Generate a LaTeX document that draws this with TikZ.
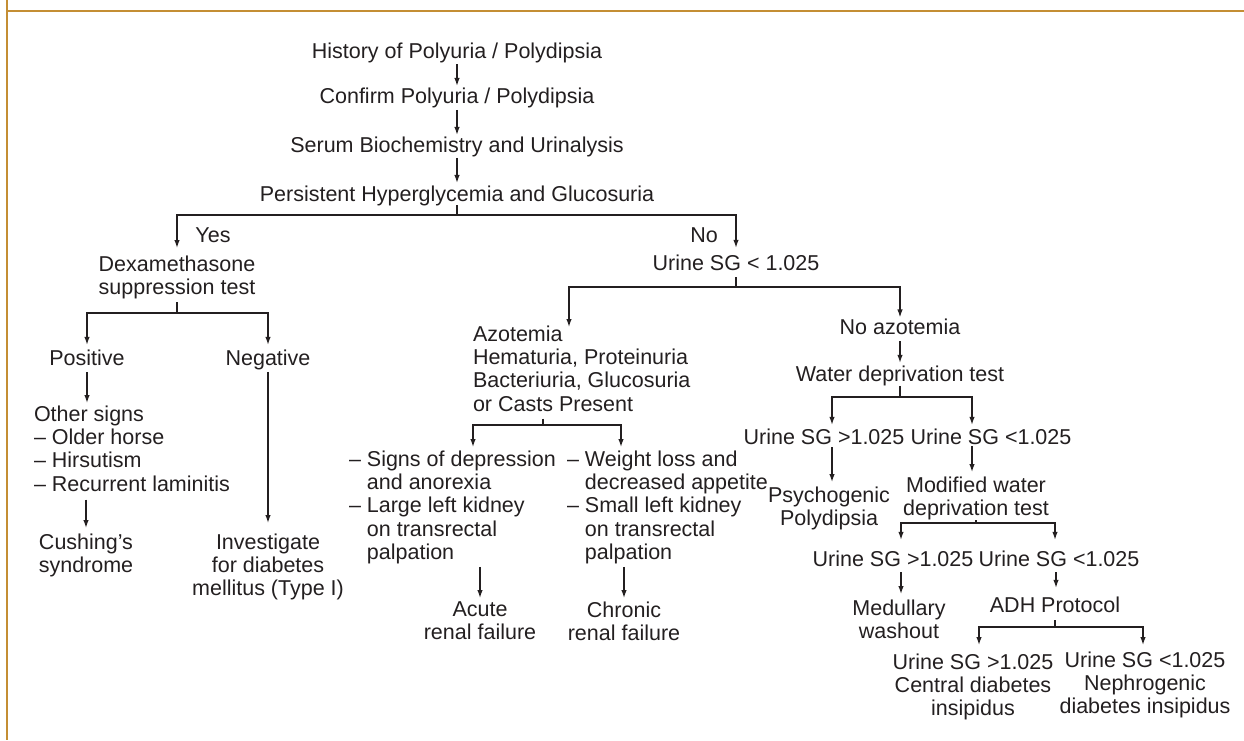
\documentclass[tikz,border=0pt]{standalone}
\usepackage{fontspec}
\setmainfont{Liberation Sans}
\usetikzlibrary{arrows.meta}
\definecolor{framegold}{RGB}{196,142,52}
\definecolor{ink}{RGB}{35,31,32}
\begin{document}
\begin{tikzpicture}[x=1pt,y=-1pt,
  txt/.style={font=\fontsize{21.5}{23.4}\selectfont, text=ink, inner sep=0pt, outer sep=0pt},
  ctr/.style={txt, align=center},
  lft/.style={txt, align=left},
  ln/.style={draw=ink, line width=1.3pt},
  arr/.style={ln, -{Latex[length=8pt,width=5.5pt]}}]
\useasboundingbox (0,0) rectangle (1244,740);
\draw[framegold, line width=1.6pt] (7,0) -- (7,740);
\draw[framegold, line width=1.6pt] (7,11) -- (1244,11);

% main column
\node[txt, anchor=base] (hist) at (457,58) {History of Polyuria / Polydipsia};
\node[txt, anchor=base] (conf) at (457,103) {Confirm Polyuria / Polydipsia};
\node[txt, anchor=base] (serum) at (457,152) {Serum Biochemistry and Urinalysis};
\node[txt, anchor=base] (pers) at (457,201) {Persistent Hyperglycemia and Glucosuria};
\node[txt, anchor=base] (yes) at (213,242) {Yes};
\node[txt, anchor=base] (no) at (704,242) {No};
\node[ctr, anchor=north] (dex) at (177,255.6) {Dexamethasone\\suppression test};
\node[txt, anchor=base] (urine1) at (736,270) {Urine SG {<} 1.025};

% left branch
\node[txt, anchor=base] (pos) at (87,365) {Positive};
\node[txt, anchor=base] (neg) at (268,365) {Negative};
\node[lft, anchor=north west] (other) at (34,405.6) {Other signs\\\textendash\ Older horse\\\textendash\ Hirsutism\\\textendash\ Recurrent laminitis};
\node[ctr, anchor=north] (cush) at (86,533.6) {Cushing’s\\syndrome};
\node[ctr, anchor=north] (invest) at (268,533.6) {Investigate\\for diabetes\\mellitus (Type I)};

% middle branch
\node[lft, anchor=north west] (azot) at (473,325.6) {Azotemia\\Hematuria, Proteinuria\\Bacteriuria, Glucosuria\\or Casts Present};
\node[lft, anchor=north west] (signs) at (349,450.6) {\textendash\ Signs of depression\\\hphantom{\textendash\ }and anorexia\\\textendash\ Large left kidney\\\hphantom{\textendash\ }on transrectal\\\hphantom{\textendash\ }palpation};
\node[lft, anchor=north west] (weight) at (567,450.6) {\textendash\ Weight loss and\\\hphantom{\textendash\ }decreased appetite\\\textendash\ Small left kidney\\\hphantom{\textendash\ }on transrectal\\\hphantom{\textendash\ }palpation};
\node[ctr, anchor=north] (acute) at (480,601.6) {Acute\\renal failure};
\node[ctr, anchor=north] (chronic) at (624,601.6) {Chronic\\renal failure};

% right branch
\node[txt, anchor=base] (noaz) at (900,334) {No azotemia};
\node[txt, anchor=base] (water) at (900,381) {Water deprivation test};
\node[txt, anchor=base] (us1) at (824,444) {Urine SG {>}1.025};
\node[txt, anchor=base] (us2) at (991,444) {Urine SG {<}1.025};
\node[ctr, anchor=north] (psych) at (829,486.6) {Psychogenic\\Polydipsia};
\node[ctr, anchor=north] (modw) at (976,476.6) {Modified water\\deprivation test};
\node[txt, anchor=base] (us3) at (893,566) {Urine SG {>}1.025};
\node[txt, anchor=base] (us4) at (1059,566) {Urine SG {<}1.025};
\node[ctr, anchor=north] (med) at (899,599.6) {Medullary\\washout};
\node[txt, anchor=base] (adh) at (1055,612) {ADH Protocol};
\node[ctr, anchor=north] (cdi) at (973,653.6) {Urine SG {>}1.025\\Central diabetes\\insipidus};
\node[ctr, anchor=north] (ndi) at (1145,651.6) {Urine SG {<}1.025\\Nephrogenic\\diabetes insipidus};

% junction coordinates
\coordinate (b1) at (457,215);
\coordinate (b2) at (177,313);
\coordinate (b3) at (736,287);
\coordinate (azin) at (569,327);
\coordinate (b4) at (900,397);
\coordinate (b5) at (976,523);
\coordinate (b6) at (1055,627);
\coordinate (b7) at (543,425);
\coordinate (sgin) at (473,447);
\coordinate (wtin) at (621,447);

% main chain
\draw[arr, shorten <=2pt, shorten >=1.5pt] (hist.south) -- (conf.north);
\draw[arr, shorten <=2.5pt, shorten >=1.5pt] (conf.south) -- (serum.north);
\draw[arr, shorten <=1.5pt, shorten >=2.5pt] (serum.south) -- (pers.north);
\draw[ln] (pers.south) -- (b1);
\draw[arr, shorten >=7.6pt] (b1) -| (dex.north);
\draw[arr, shorten >=6.6pt] (b1) -| (urine1.north);

% dexamethasone branch
\draw[ln, shorten <=3pt] (dex.south) -- (b2);
\draw[arr, shorten >=4.6pt] (b2) -| (pos.north);
\draw[arr, shorten >=4.6pt] (b2) -| (neg.north);
\draw[arr, shorten <=7pt, shorten >=2.6pt] (pos.south) -- (pos.south |- other.north);
\draw[arr, shorten <=2.5pt, shorten >=10.6pt] (neg.south) -- (invest.north);
\draw[arr, shorten <=8pt, shorten >=5.6pt] (cush.north |- other.south) -- (cush.north);

% urine SG branch
\draw[ln, shorten <=7pt] (urine1.south) -- (b3);
\draw[arr] (b3) -| (azin);
\draw[arr, shorten >=1pt] (b3) -| (noaz.north);

% azotemia branch
\draw[ln, shorten <=7pt] (b7 |- azot.south) -- (b7);
\draw[arr] (b7) -| (sgin);
\draw[arr] (b7) -| (wtin);
\draw[arr, shorten <=2.5pt, shorten >=3.6pt] (acute.north |- signs.south) -- (acute.north);
\draw[arr, shorten <=2.5pt, shorten >=3.6pt] (chronic.north |- weight.south) -- (chronic.north);

% no azotemia branch
\draw[arr, shorten <=7pt, shorten >=2.6pt] (noaz.south) -- (water.north);
\draw[ln, shorten <=0.5pt] (water.south) -- (b4);
\draw[arr, shorten >=3.6pt] (b4) -| ([xshift=8pt]us1.north);
\draw[arr, shorten >=3.6pt] (b4) -| ([xshift=-19pt]us2.north);
\draw[arr, shorten <=3pt, shorten >=4.6pt] ([xshift=8pt]us1.south) -- ([xshift=3pt]psych.north);
\draw[arr, shorten <=2pt, shorten >=4.6pt] ([xshift=-19pt]us2.south) -- ([xshift=-4pt]modw.north);
\draw[ln] (modw.south) -- (b5);
\draw[arr, shorten >=10.6pt] (b5) -| ([xshift=8pt]us3.north);
\draw[arr, shorten >=10.6pt] (b5) -| ([xshift=-4pt]us4.north);
\draw[arr, shorten <=6pt, shorten >=5.6pt] ([xshift=8pt]us3.south) -- ([xshift=2pt]med.north);
\draw[arr, shorten <=6pt, shorten >=8.6pt] ([xshift=-3pt]us4.south) -- ([xshift=1pt]adh.north);
\draw[ln, shorten <=8pt] (adh.south) -- (b6);
\draw[arr, shorten >=8.6pt] (b6) -| ([xshift=6pt]cdi.north);
\draw[arr, shorten >=6.6pt] (b6) -| ([xshift=-2pt]ndi.north);
\end{tikzpicture}
\end{document}
